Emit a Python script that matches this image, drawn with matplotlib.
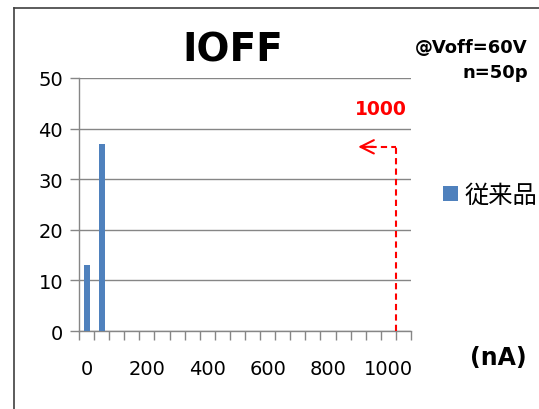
import matplotlib
matplotlib.use('Agg')
import matplotlib.pyplot as plt
from matplotlib.lines import Line2D

# Данные гистограммы (нА)
bins = [0, 50, 100, 150, 200, 250, 300, 350, 400, 450, 500,
        550, 600, 650, 700, 750, 800, 850, 900, 950, 1000, 1050]
counts = [13, 37, 0, 0, 0, 0, 0, 0, 0, 0, 0,
          0, 0, 0, 0, 0, 0, 0, 0, 0, 0, 0]
series_name = "従来品"
limit_label = "1000"

GRAY = '#868686'
BLUE = '#4F81BD'

plt.rcParams['font.family'] = ['DejaVu Sans', 'Noto Sans CJK JP']

fig = plt.figure(figsize=(5.39, 4.10), dpi=100)
ax = fig.add_axes([79/539, 1 - 332/410, 332/539, 253/410])

pos = list(range(len(bins)))
ax.bar(pos, counts, width=0.4, color=BLUE, zorder=3, label=series_name)

ax.set_xlim(-0.5, len(bins) - 0.5)
ax.set_ylim(0, 50)
ax.set_yticks([0, 10, 20, 30, 40, 50])
ax.yaxis.grid(True, color=GRAY, linewidth=1.0)
ax.set_axisbelow(True)

# подписи каждые 4 категории, засечки на границах
ax.set_xticks([p for p in pos if p % 4 == 0])
ax.set_xticklabels([str(b) for b in bins if b % 200 == 0])
ax.set_xticks([p - 0.5 for p in pos] + [len(bins) - 0.5], minor=True)
ax.tick_params(axis='x', which='major', length=0, labelsize=14, pad=20)
ax.tick_params(axis='x', which='minor', length=6.5, width=1.0, color=GRAY, direction='out')
ax.tick_params(axis='y', length=6.5, width=1.0, color=GRAY, labelsize=14, pad=5)

for s in ['top', 'right']:
    ax.spines[s].set_visible(False)
for s in ['left', 'bottom']:
    ax.spines[s].set_color(GRAY)
    ax.spines[s].set_linewidth(1.0)

# красная пунктирная стрелка
ax.plot([20.5, 20.5], [0, 36.4], color='red', linestyle=(0, (3, 2)), linewidth=1.5, zorder=4)
ax.plot([18.1, 20.5], [36.4, 36.4], color='red', linestyle=(0, (3, 2)), linewidth=1.5, zorder=4)
ax.annotate('', xy=(18.0, 36.4), xytext=(19.0, 36.4),
            arrowprops=dict(arrowstyle='->', color='red', linewidth=1.5,
                            mutation_scale=24, shrinkA=0, shrinkB=0))
ax.text(21.2, 44.0, limit_label, color='red', fontsize=13.5, fontweight='bold',
        ha='right', va='center')

fig.text(233/539, 1 - 51/410, 'IOFF', fontsize=28, fontweight='bold', ha='center', va='center')
fig.text(528/539, 1 - 48/410, '@Voff=60V', fontsize=13, fontweight='bold', ha='right', va='center')
fig.text(528/539, 1 - 73/410, 'n=50p', fontsize=13, fontweight='bold', ha='right', va='center')
fig.text(470/539, 1 - 358/410, '(nA)', fontsize=17, fontweight='bold', ha='left', va='center')

# легенда
fig.legend(loc='center left', bbox_to_anchor=(443/539, 1 - 196/410), frameon=False,
           fontsize=17.5, handlelength=0.6, handleheight=0.6, handletextpad=0.3,
           borderpad=0, borderaxespad=0)

# рамка диаграммы
fig.add_artist(Line2D([14/539, 14/539], [-0.1, 1 - 9/410], transform=fig.transFigure,
                      color='#404040', linewidth=1.2))
fig.add_artist(Line2D([14/539, 1.1], [1 - 9/410, 1 - 9/410], transform=fig.transFigure,
                      color='#404040', linewidth=1.2))

fig.savefig('out.png', dpi=100)
